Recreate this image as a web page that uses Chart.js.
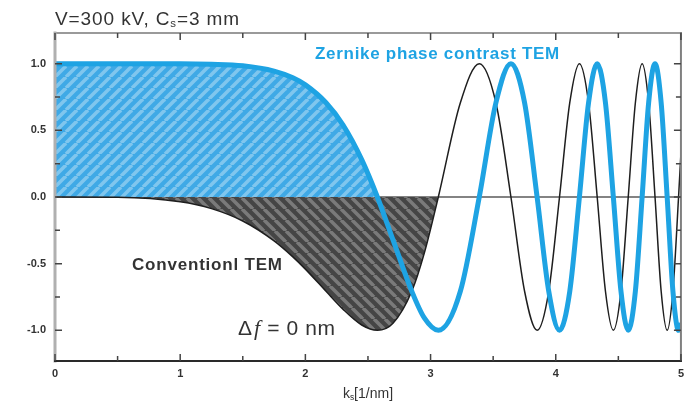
<!DOCTYPE html>
<html>
<head>
<meta charset="utf-8">
<title>Phase contrast transfer function</title>
<script src="https://cdn.jsdelivr.net/npm/chart.js@4.4.1/dist/chart.umd.min.js"></script>
<style>
  html, body { margin: 0; padding: 0; background: #ffffff; }
  canvas { display: block; }
</style>
</head>
<body>
<canvas id="ctfChart" width="690" height="405"></canvas>
<script>
// spatial frequency samples k [1/nm]
const kValues = [
    0, 0.5, 1.0, 1.25, 1.5, 1.75, 1.9, 2.0, 2.165, 2.3, 2.45, 2.575, 2.7, 2.85, 2.95,
    3.062, 3.238, 3.389, 3.522, 3.642, 3.751, 3.851, 3.944, 4.030, 4.112, 4.189, 4.262,
    4.331, 4.397, 4.460, 4.521, 4.579, 4.636, 4.690, 4.742, 4.793, 4.842, 4.890, 4.936,
    4.981, 5.0
];

// Zernike phase plate transfer
const zernikeValues = [
    1.0, 1.0, 1.0, 0.996, 0.984, 0.944, 0.894, 0.841, 0.707, 0.541, 0.28, 0, -0.322, -0.707, -0.907,
    -1.0, -0.707, 0, 0.707, 1.0, 0.707, 0, -0.707, -1.0, -0.707, 0, 0.707,
    1.0, 0.707, 0, -0.707, -1.0, -0.707, 0, 0.707, 1.0, 0.707, 0, -0.707,
    -1.0, -0.945
];

// conventional TEM transfer at zero defocus
const conventionalValues = [
    0, -0.002, -0.036, -0.087, -0.18, -0.329, -0.449, -0.541, -0.707, -0.841, -0.96, -1.0, -0.947, -0.707, -0.421,
    0, 0.707, 1.0, 0.707, 0, -0.707, -1.0, -0.707, 0, 0.707, 1.0, 0.707,
    0, -0.707, -1.0, -0.707, 0, 0.707, 1.0, 0.707, 0, -0.707, -1.0, -0.707,
    0, 0.328
];

const xTickValues = [0, 1, 2, 3, 4, 5];
const yTickValues = [-1.0, -0.5, 0.0, 0.5, 1.0];

// end of the first lobe of each curve (hatched area)
const zernikeLobeEnd = 2.575;
const conventionalLobeEnd = 3.062;

const BLUE = "#1ea3e3";
const INK = "#333333";
const SANS = '"Liberation Sans", Arial, sans-serif';

const canvas = document.getElementById("ctfChart");
const ctx = canvas.getContext("2d");

// diagonal hatch used for the filled lobes
function makeHatch(base, stripe, rising) {
    const size = 11;
    const tile = document.createElement("canvas");
    tile.width = size;
    tile.height = size;
    const g = tile.getContext("2d");
    g.fillStyle = base;
    g.fillRect(0, 0, size, size);
    g.strokeStyle = stripe;
    g.lineWidth = 3.5;
    [-size, 0, size].forEach((o) => {
        g.beginPath();
        if (rising) {
            g.moveTo(o, size);
            g.lineTo(o + size, 0);
        } else {
            g.moveTo(o, 0);
            g.lineTo(o + size, size);
        }
        g.stroke();
    });
    return ctx.createPattern(tile, "repeat");
}

const toPoints = (ys) => kValues.map((k, i) => ({ x: k, y: ys[i] }));
const zernikePoints = toPoints(zernikeValues);
const conventionalPoints = toPoints(conventionalValues);

// text runs with optional subscript pieces; returns the end x
function drawRuns(c, parts, x, y, size, weight, color, spacing) {
    c.fillStyle = color;
    c.textBaseline = "alphabetic";
    c.textAlign = "left";
    c.letterSpacing = (spacing || 0) + "px";
    parts.forEach((p) => {
        const s = p.sub ? size * 0.6 : size;
        c.font = `${weight} ${s}px ${SANS}`;
        c.fillText(p.t, x, p.sub ? y + size * 0.12 : y);
        x += c.measureText(p.t).width;
    });
    c.letterSpacing = "0px";
    return x;
}

function runsWidth(c, parts, size, weight, spacing) {
    let w = 0;
    c.letterSpacing = (spacing || 0) + "px";
    parts.forEach((p) => {
        c.font = `${weight} ${p.sub ? size * 0.6 : size}px ${SANS}`;
        w += c.measureText(p.t).width;
    });
    c.letterSpacing = "0px";
    return w;
}

const decorPlugin = {
    id: "decor",
    beforeDatasetsDraw(chart) {
        const c = chart.ctx;
        const a = chart.chartArea;
        const y0 = chart.scales.y.getPixelForValue(0);
        c.save();
        c.strokeStyle = "#5a5a5a";
        c.lineWidth = 1.5;
        c.beginPath();
        c.moveTo(a.left, y0);
        c.lineTo(a.right, y0);
        c.stroke();
        c.restore();
    },
    afterDatasetsDraw(chart) {
        const c = chart.ctx;
        const a = chart.chartArea;
        const xs = chart.scales.x;
        const ys = chart.scales.y;
        c.save();

        // frame
        c.lineCap = "square";
        c.strokeStyle = "#9a9a9a";
        c.lineWidth = 2;
        c.beginPath();
        c.moveTo(a.left, a.top);
        c.lineTo(a.right, a.top);
        c.stroke();
        c.strokeStyle = "#808080";
        c.beginPath();
        c.moveTo(a.right, a.top);
        c.lineTo(a.right, a.bottom);
        c.stroke();
        c.strokeStyle = "#b0b0b0";
        c.lineWidth = 3;
        c.beginPath();
        c.moveTo(a.left, a.top);
        c.lineTo(a.left, a.bottom);
        c.stroke();
        c.strokeStyle = "#2a2a2a";
        c.lineWidth = 2;
        c.beginPath();
        c.moveTo(a.left, a.bottom);
        c.lineTo(a.right, a.bottom);
        c.stroke();

        // inward ticks
        c.strokeStyle = "#444";
        c.lineWidth = 1.5;
        c.lineCap = "butt";
        for (let i = 0; i <= 10; i++) {
            const px = xs.getPixelForValue(i * 0.5);
            const len = i % 2 === 0 ? 7 : 5;
            c.beginPath();
            c.moveTo(px, a.bottom);
            c.lineTo(px, a.bottom - len);
            c.moveTo(px, a.top);
            c.lineTo(px, a.top + len);
            c.stroke();
        }
        for (let i = -4; i <= 4; i++) {
            const py = ys.getPixelForValue(i * 0.25);
            const len = i % 2 === 0 ? 7 : 5;
            c.beginPath();
            c.moveTo(a.left, py);
            c.lineTo(a.left + len, py);
            c.moveTo(a.right, py);
            c.lineTo(a.right - len, py);
            c.stroke();
        }
        c.restore();
    },
    afterDraw(chart) {
        const c = chart.ctx;
        const a = chart.chartArea;
        c.save();

        // heading
        drawRuns(c, [
            { t: "V=300 kV, C" },
            { t: "s", sub: true },
            { t: "=3 mm" }
        ], 55, 25, 19, "normal", INK, 0.9);

        // x axis title
        const parts = [{ t: "k" }, { t: "s", sub: true }, { t: "[1/nm]" }];
        const w = runsWidth(c, parts, 14, "normal", 0);
        drawRuns(c, parts, (a.left + a.right) / 2 - w / 2, 398, 14, "normal", INK, 0);

        // curve labels
        drawRuns(c, [{ t: "Zernike phase contrast TEM" }], 315, 59, 17, "bold", BLUE, 0.7);
        drawRuns(c, [{ t: "Conventionl TEM" }], 132, 270, 17, "bold", INK, 0.8);

        // defocus note: Δf = 0 nm
        c.fillStyle = INK;
        c.textBaseline = "alphabetic";
        let x = 238;
        const base = 335;
        c.font = `21px ${SANS}`;
        c.fillText("\u0394", x, base);
        x += c.measureText("\u0394").width + 2;
        c.font = 'italic 22px "Liberation Serif", "DejaVu Serif", serif';
        c.fillText("f", x, base);
        x += c.measureText("f").width + 7;
        c.font = `21px ${SANS}`;
        c.letterSpacing = "0.6px";
        c.fillText("= 0 nm", x, base);
        c.letterSpacing = "0px";

        c.restore();
    }
};

new Chart(canvas, {
    type: "line",
    data: {
        datasets: [
            {
                label: "Zernike phase contrast TEM",
                data: zernikePoints,
                borderColor: BLUE,
                borderWidth: 5,
                pointRadius: 0,
                fill: false,
                cubicInterpolationMode: "monotone"
            },
            {
                label: "Conventionl TEM",
                data: conventionalPoints,
                borderColor: "#1e1e1e",
                borderWidth: 1.5,
                pointRadius: 0,
                fill: false,
                cubicInterpolationMode: "monotone"
            },
            {
                label: "Zernike lobe",
                data: zernikePoints.filter((p) => p.x <= zernikeLobeEnd),
                borderWidth: 0,
                pointRadius: 0,
                backgroundColor: makeHatch("#3fa9e6", "#80c6ee", true),
                fill: "origin",
                cubicInterpolationMode: "monotone"
            },
            {
                label: "Conventional lobe",
                data: conventionalPoints.filter((p) => p.x <= conventionalLobeEnd),
                borderWidth: 0,
                pointRadius: 0,
                backgroundColor: makeHatch("#454545", "#7a7a7a", false),
                fill: "origin",
                cubicInterpolationMode: "monotone"
            }
        ]
    },
    options: {
        responsive: false,
        animation: false,
        events: [],
        layout: { padding: { top: 33, right: 4, left: 0, bottom: 0 } },
        plugins: {
            legend: { display: false },
            tooltip: { enabled: false }
        },
        scales: {
            x: {
                type: "linear",
                min: 0,
                max: 5,
                grid: { display: false, drawTicks: false },
                border: { display: false },
                afterBuildTicks: (scale) => {
                    scale.ticks = xTickValues.map((v) => ({ value: v }));
                },
                afterFit: (scale) => { scale.height = 44; },
                ticks: {
                    padding: 6,
                    color: INK,
                    font: { family: "'Liberation Sans', Arial, sans-serif", size: 11, weight: "bold" },
                    callback: (v) => String(v)
                }
            },
            y: {
                min: -1.23,
                max: 1.23,
                grid: { display: false, drawTicks: false },
                border: { display: false },
                afterBuildTicks: (scale) => {
                    scale.ticks = yTickValues.map((v) => ({ value: v }));
                },
                afterFit: (scale) => { scale.width = 55; },
                ticks: {
                    padding: 9,
                    color: INK,
                    font: { family: "'Liberation Sans', Arial, sans-serif", size: 11, weight: "bold" },
                    callback: (v) => Number(v).toFixed(1)
                }
            }
        }
    },
    plugins: [decorPlugin]
});
</script>
</body>
</html>
